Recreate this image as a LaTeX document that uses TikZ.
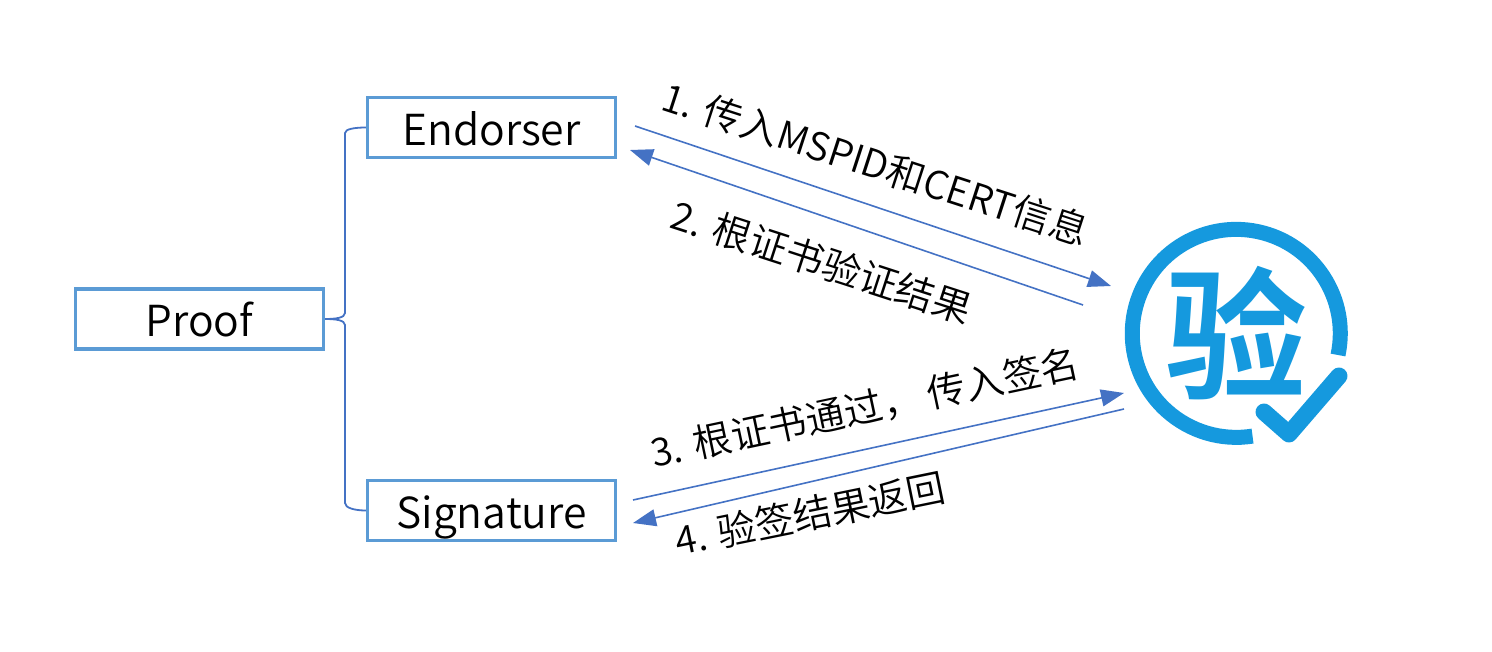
\documentclass[tikz,border=0pt]{standalone}
\usepackage{fontspec}
\usetikzlibrary{arrows.meta}
\setmainfont{Noto Sans CJK SC DemiLight}
\newfontfamily\sealfont{Noto Sans CJK SC Bold}
\definecolor{boxblue}{HTML}{5B9BD5}
\definecolor{linkblue}{HTML}{4472C4}
\definecolor{sealblue}{HTML}{1599DE}
\tikzset{
  entity/.style={draw=boxblue,line width=3.2pt,minimum width=248pt,minimum height=60pt,inner sep=0pt,text height=41pt,text depth=5pt,font=\fontsize{42.7}{50}\selectfont},
  link/.style={draw=linkblue,line width=1.6pt,-{Triangle[length=23pt,width=17pt]}},
  brace/.style={draw=linkblue,line width=1.8pt},
  steplabel/.style={inner sep=0pt,font=\fontsize{38.6}{46}\selectfont},
}
\begin{document}
\begin{tikzpicture}[x=1pt,y=-1pt]
    \useasboundingbox (0,0) rectangle (1492,652);
    % Boxes
    \node[entity] (proof) at (199.5,319) {Proof};
    \node[entity] (endorser) at (491.5,127.5) {Endorser};
    \node[entity] (signature) at (491.5,510.5) {Signature};
    % Brace
    \draw[brace] (proof.east) .. controls (335,319) and (345,318) .. (345,313) -- (345,133) .. controls (345,129) and (355,127.5) .. (endorser.west);
    \draw[brace] (proof.east) .. controls (335,319) and (345,320) .. (345,325) -- (345,503) .. controls (345,508) and (355,510.5) .. (signature.west);
    % Ends of the links
    \coordinate (a1) at (635,126);
    \coordinate (b1) at (1111,286);
    \coordinate (a2) at (1083,305);
    \coordinate (b2) at (630,150);
    \coordinate (a3) at (633,500);
    \coordinate (b3) at (1124,393);
    \coordinate (a4) at (1124,409);
    \coordinate (b4) at (633,523);
    % Links
    \draw[link] (a1) -- (b1);
    \draw[link] (a2) -- (b2);
    \draw[link] (a3) -- (b3);
    \draw[link] (a4) -- (b4);
    % Labels
    \node[steplabel,rotate=-18] (step1) at (876,164) {1. 传入MSPID和CERT信息};
    \node[steplabel,rotate=-18] (step2) at (822,262) {2. 根证书验证结果};
    \node[steplabel,rotate=12] (step3) at (865,408) {3. 根证书通过，\hspace{8pt}传入签名};
    \node[steplabel,rotate=11.5] (step4) at (810,514) {4. 验签结果返回};
    % Seal
    \draw[sealblue,line width=15pt] (1338,355) arc (12:-279:104);
    \draw[sealblue,line width=17pt,line cap=round,line join=round] (1264,412) -- (1289,434) -- (1339,376);
    \node[text=sealblue,inner sep=0pt,font=\sealfont\fontsize{142}{142}\selectfont] (seal) at (1236,333) {验};
\end{tikzpicture}
\end{document}
